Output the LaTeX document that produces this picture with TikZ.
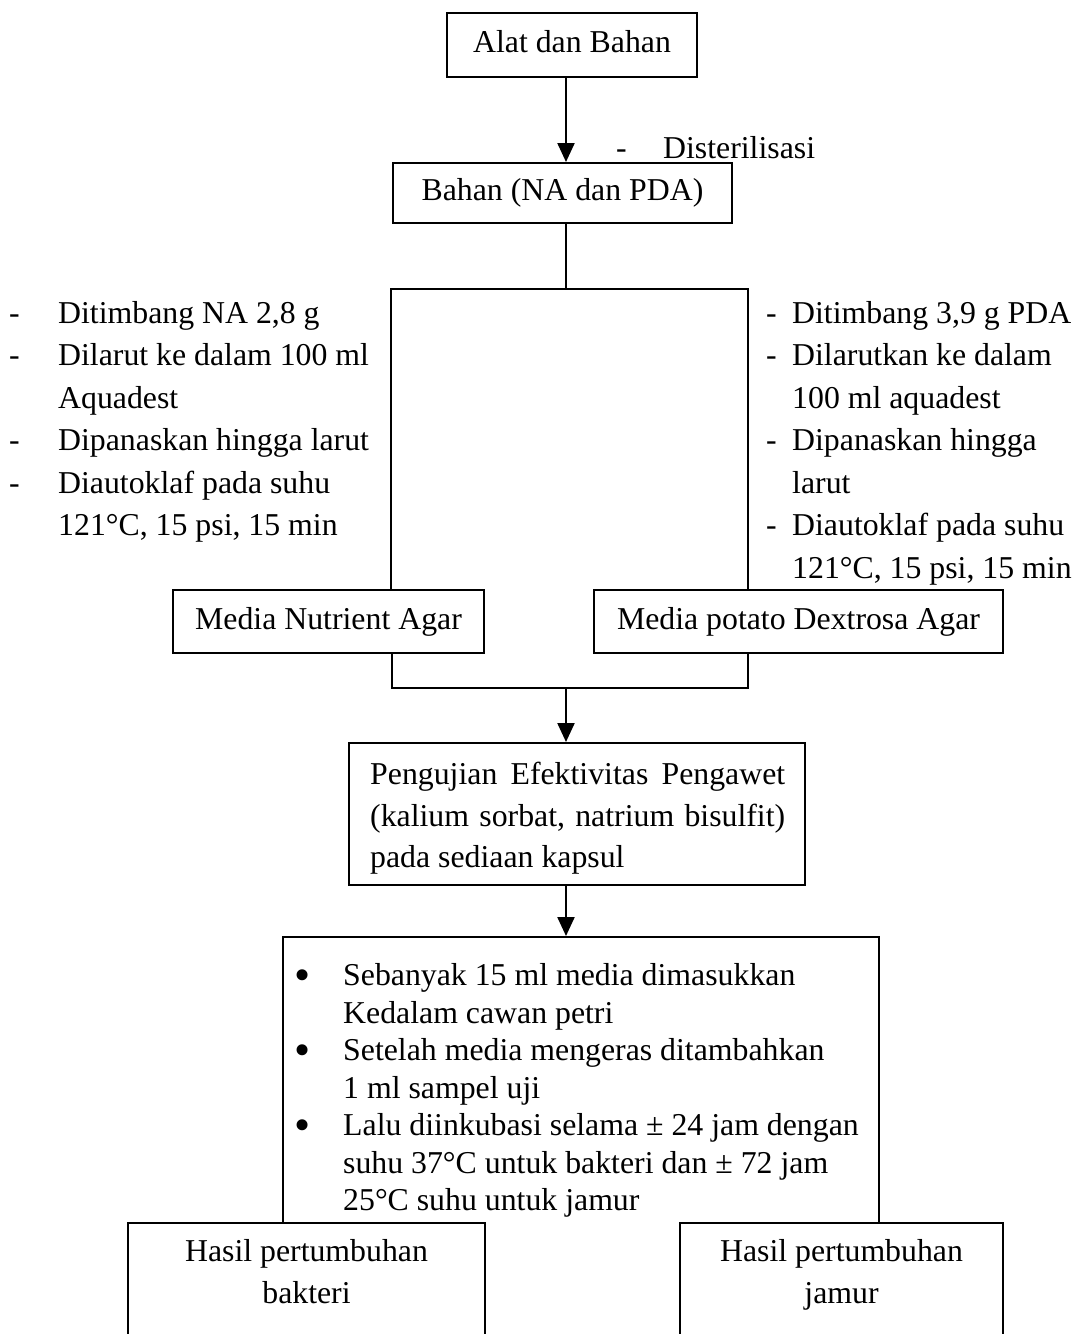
\documentclass[tikz,border=0pt]{standalone}
\usepackage{fontspec}
\setmainfont{Liberation Serif}
\usetikzlibrary{arrows.meta}
\newcommand{\bigdot}{\raisebox{-4.5pt}{\fontsize{46}{46}\selectfont •}}
\begin{document}
\begin{tikzpicture}[x=1pt,y=-1pt,
  every node/.style={font=\fontsize{31.8}{42.5}\selectfont},
  box/.style={draw, line width=2pt, rectangle, inner sep=0pt, text height=22pt, text depth=7pt},
  frame/.style={draw, line width=2pt, rectangle, inner sep=0pt},
  conn/.style={line width=1.5pt},
  arr/.style={line width=2.3pt, -{Triangle[width=17pt,length=19pt]}},
  txt/.style={inner sep=0pt, anchor=base west}]
\useasboundingbox (0,0) rectangle (1079,1334);
\clip (0,0) rectangle (1079,1334);

% top boxes
\node[box, minimum width=250pt, minimum height=64pt] (alat) at (572,45) {Alat dan Bahan};
\node[box, minimum width=339pt, minimum height=60pt] (bahan) at (562.5,193) {Bahan (NA dan PDA)};
\node[txt] (steril) at (616,158.5) {\makebox[47pt][l]{-}Disterilisasi};

% side lists
\node[txt] (listna) at (9,323) {\begin{tabular}[t]{@{}p{49pt}@{}l@{}}
-&Ditimbang NA 2,8 g\\
-&Dilarut ke dalam 100 ml\\
&Aquadest\\
-&Dipanaskan hingga larut\\
-&Diautoklaf pada suhu\\
&121°C, 15 psi, 15 min
\end{tabular}};
\node[txt] (listpda) at (766,323) {\begin{tabular}[t]{@{}p{26pt}@{}l@{}}
-&Ditimbang 3,9 g PDA\\
-&Dilarutkan ke dalam\\
&100 ml aquadest\\
-&Dipanaskan hingga\\
&larut\\
-&Diautoklaf pada suhu\\
&121°C, 15 psi, 15 min
\end{tabular}};

% media boxes
\node[box, minimum width=311pt, minimum height=63pt] (mna) at (328.5,621.5) {Media Nutrient Agar};
\node[box, minimum width=409pt, minimum height=63pt] (mpda) at (798.5,621.5) {Media potato Dextrosa Agar};

% pengujian
\node[frame, minimum width=456pt, minimum height=142pt] (uji) at (577,814) {};
\node[txt, font=\fontsize{31.8}{41.5}\selectfont] (ujit) at (370,784.6) {\begin{tabular}[t]{@{}l@{}}
\hbox to 415pt{Pengujian\hfill Efektivitas\hfill Pengawet}\\
\hbox to 415pt{(kalium\hfill sorbat,\hfill natrium\hfill bisulfit)}\\
pada sediaan kapsul
\end{tabular}};

% procedure box
\node[frame, minimum width=596pt, minimum height=600pt, anchor=north] (cara) at (581,936) {};
\node[txt, font=\fontsize{31.8}{37.5}\selectfont] (carat) at (294,985.6) {\begin{tabular}[t]{@{}p{49pt}@{}l@{}}
\bigdot&Sebanyak 15 ml media dimasukkan\\
&Kedalam cawan petri\\
\bigdot&Setelah media mengeras ditambahkan\\
&1 ml sampel uji\\
\bigdot&Lalu diinkubasi selama ± 24 jam dengan\\
&suhu 37°C untuk bakteri dan ± 72 jam\\
&25°C suhu untuk jamur
\end{tabular}};

% result boxes
\node[frame, fill=white, minimum width=357pt, minimum height=300pt, anchor=north] (hb) at (306.5,1222) {};
\node[frame, fill=white, minimum width=323pt, minimum height=300pt, anchor=north] (hj) at (841.5,1222) {};
\node[inner sep=0pt, anchor=base] (hbt) at (306.5,1261) {\begin{tabular}[t]{@{}c@{}}Hasil pertumbuhan\\bakteri\end{tabular}};
\node[inner sep=0pt, anchor=base] (hjt) at (841.5,1261) {\begin{tabular}[t]{@{}c@{}}Hasil pertumbuhan\\jamur\end{tabular}};

% connectors
\coordinate (sp) at (566,289);
\coordinate (sl) at (391,289);
\coordinate (sr) at (748,289);
\coordinate (jl) at (392,688);
\coordinate (jr) at (748,688);
\coordinate (jm) at (566,688);
\draw[arr] (alat.south -| sp) -- (bahan.north -| sp);
\draw[conn] (bahan.south -| sp) -- (sp);
\draw[conn] (sl |- mna.north) -- (sl) -- (sr) -- (sr |- mpda.north);
\draw[conn] (mna.south -| jl) -- (jl) -- (jr) -- (mpda.south -| jr);
\draw[arr] (jm) -- (uji.north -| jm);
\draw[arr] (uji.south -| jm) -- (cara.north -| jm);
\end{tikzpicture}
\end{document}
